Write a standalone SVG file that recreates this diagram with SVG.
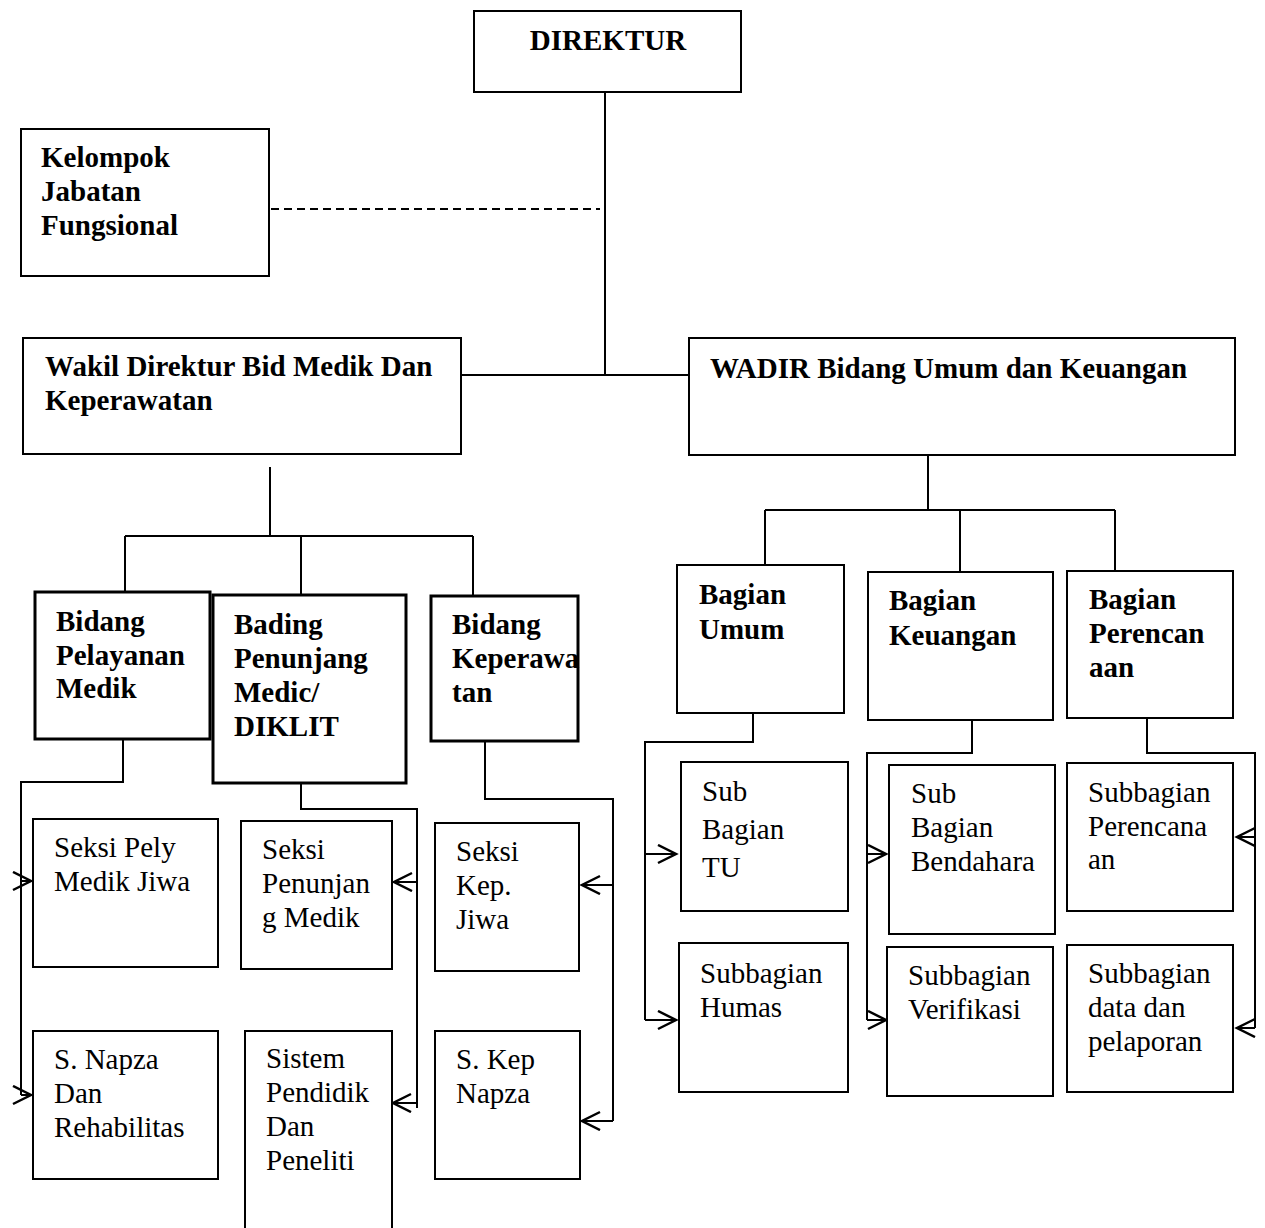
<svg xmlns="http://www.w3.org/2000/svg" width="1265" height="1228" viewBox="0 0 1265 1228">
<style>
rect{fill:#fff;stroke:#000;stroke-width:2}
rect.thick{stroke-width:3}
text{font-family:"Liberation Serif","Times New Roman",serif;font-size:29px;fill:#000}
text.b{font-weight:bold}
#connectors path{fill:none;stroke:#000;stroke-width:2}
#connectors path.arr{marker-end:url(#chev)}
#connectors path.dash{stroke-dasharray:8 5}
</style>
<defs>
<marker id="chev" markerUnits="userSpaceOnUse" markerWidth="22" markerHeight="22" refX="19" refY="10" orient="auto" viewBox="0 0 22 22">
<path d="M1,1 L19,10 L1,19" fill="none" stroke="#000" stroke-width="2.5"/>
</marker>
</defs>
<rect x="0" y="0" width="1265" height="1228" style="stroke:none"/>
<g id="connectors">
<path d="M605,92 V375"/>
<path d="M461,375 H689"/>
<path class="dash" d="M271,209 H600"/>
<path d="M270,467 V536 M125,536 H473 M125,536 V592 M301,536 V595 M473,536 V595"/>
<path d="M928,455 V510 M765,510 H1115 M765,510 V565 M960,510 V572 M1115,510 V571"/>
<path d="M123,739 V782 H21 V1095"/>
<path class="arr" d="M21,881 H31"/>
<path class="arr" d="M21,1095 H31"/>
<path d="M301,783 V809 H417 V1108"/>
<path class="arr" d="M417,882 H394"/>
<path class="arr" d="M417,1103 H393"/>
<path d="M485,741 V799 H613 V1121"/>
<path class="arr" d="M613,885 H582"/>
<path class="arr" d="M613,1121 H582"/>
<path d="M753,713 V742 H645 V1020"/>
<path class="arr" d="M645,854 H676"/>
<path class="arr" d="M645,1020 H676"/>
<path d="M972,720 V753 H867 V1020"/>
<path class="arr" d="M867,854 H886"/>
<path class="arr" d="M867,1020 H886"/>
<path d="M1147,718 V753 H1255 V1028"/>
<path class="arr" d="M1255,837 H1237"/>
<path class="arr" d="M1255,1028 H1237"/>
</g>
<g id="direktur"><rect x="474" y="11" width="267" height="81"/><text class="b" x="608" y="50" text-anchor="middle">DIREKTUR</text></g>
<g id="kelompok"><rect x="21" y="129" width="248" height="147"/><text class="b" x="41" y="167">Kelompok</text><text class="b" x="41" y="201">Jabatan</text><text class="b" x="41" y="235">Fungsional</text></g>
<g id="wakil"><rect x="23" y="338" width="438" height="116"/><text class="b" x="45" y="376">Wakil Direktur Bid Medik Dan</text><text class="b" x="45" y="410">Keperawatan</text></g>
<g id="wadir"><rect x="689" y="338" width="546" height="117"/><text class="b" x="710" y="378">WADIR Bidang Umum dan Keuangan</text></g>
<g id="bid-pelayanan"><rect class="thick" x="35" y="592" width="175" height="147"/><text class="b" x="56" y="631">Bidang</text><text class="b" x="56" y="665">Pelayanan</text><text class="b" x="56" y="698">Medik</text></g>
<g id="bading"><rect class="thick" x="213" y="595" width="193" height="188"/><text class="b" x="234" y="634">Bading</text><text class="b" x="234" y="668">Penunjang</text><text class="b" x="234" y="702">Medic/</text><text class="b" x="234" y="736">DIKLIT</text></g>
<g id="bid-keperawatan"><rect class="thick" x="431" y="596" width="147" height="145"/><text class="b" x="452" y="634">Bidang</text><text class="b" x="452" y="668">Keperawa</text><text class="b" x="452" y="702">tan</text></g>
<g id="bag-umum"><rect x="677" y="565" width="167" height="148"/><text class="b" x="699" y="604">Bagian</text><text class="b" x="699" y="639">Umum</text></g>
<g id="bag-keuangan"><rect x="868" y="572" width="185" height="148"/><text class="b" x="889" y="610">Bagian</text><text class="b" x="889" y="645">Keuangan</text></g>
<g id="bag-perencanaan"><rect x="1067" y="571" width="166" height="147"/><text class="b" x="1089" y="609">Bagian</text><text class="b" x="1089" y="643">Perencan</text><text class="b" x="1089" y="677">aan</text></g>
<g id="seksi-pely"><rect x="33" y="819" width="185" height="148"/><text x="54" y="857">Seksi Pely</text><text x="54" y="891">Medik Jiwa</text></g>
<g id="s-napza"><rect x="33" y="1031" width="185" height="148"/><text x="54" y="1069">S. Napza</text><text x="54" y="1103">Dan</text><text x="54" y="1137">Rehabilitas</text></g>
<g id="seksi-penunjang"><rect x="241" y="821" width="151" height="148"/><text x="262" y="859">Seksi</text><text x="262" y="893">Penunjan</text><text x="262" y="927">g Medik</text></g>
<g id="sistem-pendidik"><rect x="245" y="1031" width="147" height="220"/><text x="266" y="1068">Sistem</text><text x="266" y="1102">Pendidik</text><text x="266" y="1136">Dan</text><text x="266" y="1170">Peneliti</text></g>
<g id="seksi-kep-jiwa"><rect x="435" y="823" width="144" height="148"/><text x="456" y="861">Seksi</text><text x="456" y="895">Kep.</text><text x="456" y="929">Jiwa</text></g>
<g id="s-kep-napza"><rect x="435" y="1031" width="145" height="148"/><text x="456" y="1069">S. Kep</text><text x="456" y="1103">Napza</text></g>
<g id="sub-tu"><rect x="681" y="762" width="167" height="149"/><text x="702" y="801">Sub</text><text x="702" y="839">Bagian</text><text x="702" y="877">TU</text></g>
<g id="sub-humas"><rect x="679" y="943" width="169" height="149"/><text x="700" y="983">Subbagian</text><text x="700" y="1017">Humas</text></g>
<g id="sub-bendahara"><rect x="889" y="765" width="166" height="169"/><text x="911" y="803">Sub</text><text x="911" y="837">Bagian</text><text x="911" y="871">Bendahara</text></g>
<g id="sub-verifikasi"><rect x="887" y="947" width="166" height="149"/><text x="908" y="985">Subbagian</text><text x="908" y="1019">Verifikasi</text></g>
<g id="sub-perencanaan"><rect x="1067" y="763" width="166" height="148"/><text x="1088" y="802">Subbagian</text><text x="1088" y="836">Perencana</text><text x="1088" y="869">an</text></g>
<g id="sub-data"><rect x="1067" y="945" width="166" height="147"/><text x="1088" y="983">Subbagian</text><text x="1088" y="1017">data dan</text><text x="1088" y="1051">pelaporan</text></g>
</svg>
